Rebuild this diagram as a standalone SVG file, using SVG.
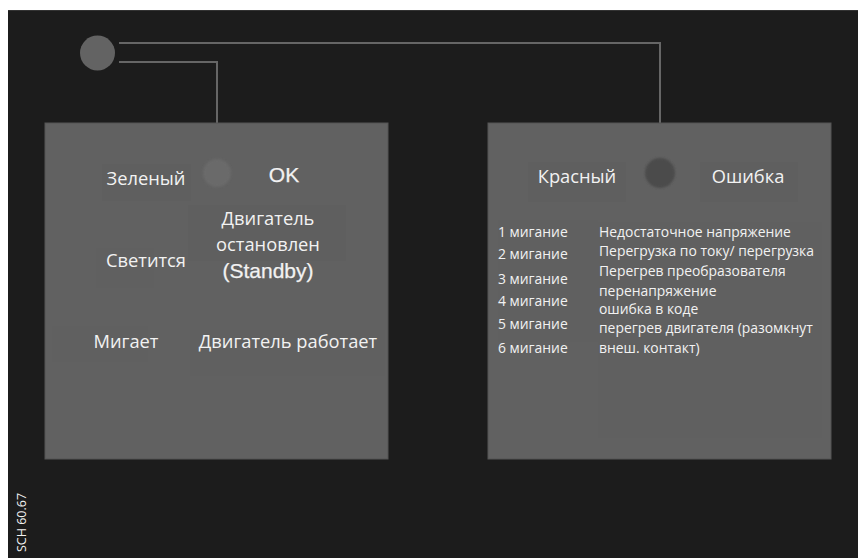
<svg xmlns="http://www.w3.org/2000/svg" width="858" height="558" viewBox="0 0 858 558">
<defs>
<style>
.bg{fill:#1c1c1c}
.box{fill:#616161;stroke:#555;stroke-width:1}
.back{fill:#5f5f5f}
.wire{fill:none;stroke:#666;stroke-width:2}
.t{font-family:"Open Sans","Noto Sans","DejaVu Sans",sans-serif;fill:#f2f2f2}
.a{font-family:"Liberation Sans",Arial,sans-serif;fill:#f2f2f2;stroke:#f2f2f2;stroke-width:0.25}
.l{font-size:18.3px}
.s{font-size:13.9px}
</style>
<filter id="blur" x="-50%" y="-50%" width="200%" height="200%"><feGaussianBlur stdDeviation="1"/></filter>
</defs>
<rect x="0" y="0" width="858" height="558" fill="#ffffff"/>
<rect class="bg" x="8" y="10" width="850" height="548"/>
<line x1="8" y1="10.5" x2="858" y2="10.5" stroke="#333" stroke-width="1"/>

<g id="connectors">
<polyline class="wire" points="119,43 660,43 660,132"/>
<polyline class="wire" points="119,62 217,62 217,126"/>
</g>

<g id="led">
<circle cx="97.5" cy="53" r="17.5" fill="#636363"/>
</g>

<g id="green-box">
<rect class="box" x="45" y="123" width="343" height="336"/>
<rect class="back" x="102" y="164" width="89" height="37"/>
<rect class="back" x="188" y="205" width="158" height="56"/>
<rect class="back" x="96" y="248" width="58" height="40" opacity="0.5"/>
<rect class="back" x="52" y="326" width="96" height="36" opacity="0.6"/>
<rect class="back" x="190" y="330" width="195" height="46" opacity="0.6"/>
<circle cx="217" cy="173" r="14" fill="#6a6a6a" filter="url(#blur)"/>
<text class="t l" x="146" y="185" text-anchor="middle">Зеленый</text>
<text class="a" x="284" y="182" text-anchor="middle" font-size="21">OK</text>
<text class="t l" x="268" y="225" text-anchor="middle">Двигатель</text>
<text class="t l" x="268" y="251" text-anchor="middle">остановлен</text>
<text class="a" x="268" y="278" text-anchor="middle" font-size="21">(Standby)</text>
<text class="t l" x="146" y="267" text-anchor="middle">Светится</text>
<text class="t l" x="126" y="348" text-anchor="middle">Мигает</text>
<text class="t l" x="288" y="348" text-anchor="middle">Двигатель работает</text>
</g>

<g id="red-box">
<rect class="box" x="488" y="123" width="343" height="336"/>
<rect class="back" x="528" y="162" width="98" height="40"/>
<rect class="back" x="700" y="162" width="98" height="40"/>
<rect class="back" x="498" y="220" width="100" height="122" opacity="0.5"/>
<rect class="back" x="598" y="222" width="224" height="216" opacity="0.6"/>
<circle cx="660" cy="173" r="15" fill="#4b4b4b" filter="url(#blur)"/>
<text class="t l" x="577" y="183" text-anchor="middle">Красный</text>
<text class="t l" x="748" y="183" text-anchor="middle">Ошибка</text>
<text class="t s" x="498" y="237">1 мигание</text>
<text class="t s" x="498" y="259">2 мигание</text>
<text class="t s" x="498" y="284">3 мигание</text>
<text class="t s" x="498" y="306">4 мигание</text>
<text class="t s" x="498" y="329">5 мигание</text>
<text class="t s" x="498" y="353">6 мигание</text>
<text class="t s" x="599" y="237">Недостаточное напряжение</text>
<text class="t s" x="599" y="256">Перегрузка по току/ перегрузка</text>
<text class="t s" x="599" y="276">Перегрев преобразователя</text>
<text class="t s" x="599" y="296">перенапряжение</text>
<text class="t s" x="599" y="314">ошибка в коде</text>
<text class="t s" x="599" y="333">перегрев двигателя (разомкнут</text>
<text class="t s" x="599" y="353">внеш. контакт)</text>
</g>

<g id="label">
<text class="t" font-size="12.5" transform="translate(26,552) rotate(-90)">SCH 60.67</text>
</g>
</svg>
